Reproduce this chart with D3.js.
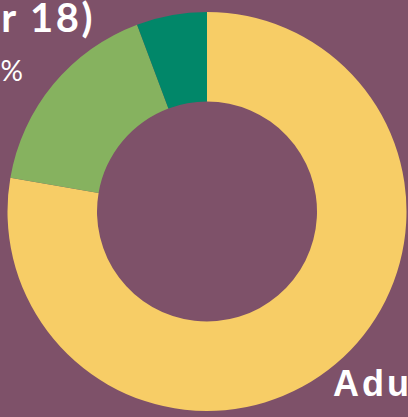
<!DOCTYPE html>
<html>
<head>
<meta charset="utf-8">
<script src="https://cdn.jsdelivr.net/npm/d3@7"></script>
<style>
  html, body { margin: 0; padding: 0; background: #7e5169; overflow: hidden; }
  svg { display: block; }
</style>
</head>
<body>
<div id="chart"></div>
<script>
// age groups, share of people (%)
const groups = ["Adults", "Children (under 18)", "Other"];
const shares = [77.7, 16.6, 5.7];
const colors = ["#f7cd66", "#86b25f", "#018769"];

const width = 408, height = 417;
const cx = 207, cy = 211.5;
const outerR = 199.5, innerR = 110;

const svg = d3.select("#chart")
    .append("svg")
    .attr("width", width)
    .attr("height", height);

svg.append("rect")
    .attr("width", width)
    .attr("height", height)
    .attr("fill", "#7e5169");

const data = groups.map((g, i) => ({ group: g, value: shares[i] }));

const pie = d3.pie()
    .sort(null)
    .value(d => d.value);

const arc = d3.arc()
    .innerRadius(innerR)
    .outerRadius(outerR);

const color = d3.scaleOrdinal()
    .domain(groups)
    .range(colors);

const g = svg.append("g")
    .attr("transform", `translate(${cx},${cy})`);

g.selectAll("path")
    .data(pie(data))
    .join("path")
    .attr("d", arc)
    .attr("fill", d => color(d.data.group));

// labels (partly outside the frame, as in the original)
svg.append("text")
    .attr("x", 95)
    .attr("y", 32)
    .attr("text-anchor", "end")
    .attr("fill", "#fff")
    .attr("font-family", "Lato, sans-serif")
    .attr("font-weight", "bold")
    .attr("font-size", 40)
    .attr("letter-spacing", 2.5)
    .text("Children (under 18)");

svg.append("text")
    .attr("x", 23)
    .attr("y", 81)
    .attr("text-anchor", "end")
    .attr("fill", "#fff")
    .attr("font-family", "Lato, sans-serif")
    .attr("font-size", 28)
    .text(Math.round(shares[1]) + "%");

svg.append("text")
    .attr("x", 333)
    .attr("y", 396)
    .attr("fill", "#fff")
    .attr("font-family", "'Liberation Sans', Arial, sans-serif")
    .attr("font-weight", "bold")
    .attr("font-size", 36)
    .attr("letter-spacing", 3)
    .text("Adults");
</script>
</body>
</html>
